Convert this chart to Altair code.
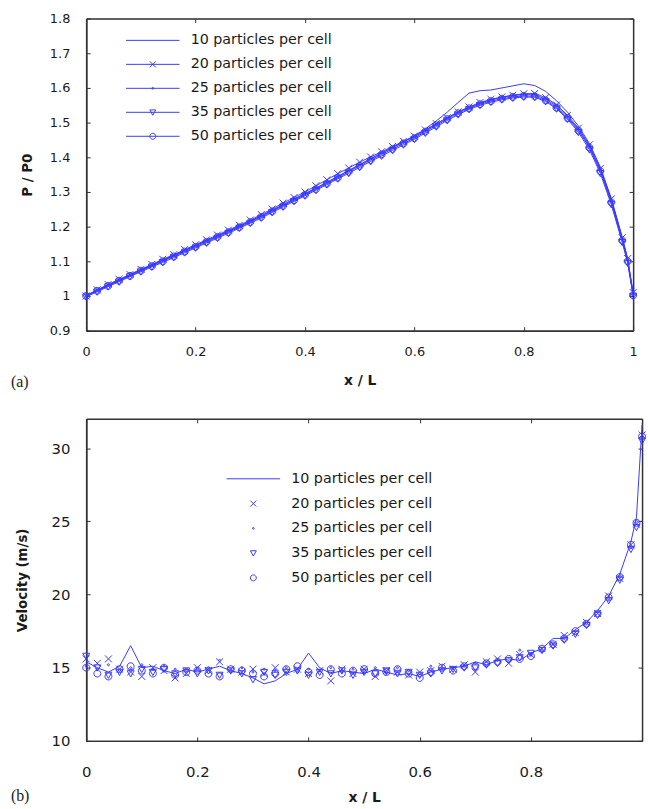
import altair as alt
import pandas as pd

BLUE = "#3a3aff"
TXT = "#1a1a1a"
FRAME = "#333333"
F = "DejaVu Sans"

names = ["10 particles per cell", "20 particles per cell", "25 particles per cell",
         "35 particles per cell", "50 particles per cell"]

x_pos = [0.00, 0.02, 0.04, 0.06, 0.08, 0.10, 0.12, 0.14, 0.16, 0.18,
         0.20, 0.22, 0.24, 0.26, 0.28, 0.30, 0.32, 0.34, 0.36, 0.38,
         0.40, 0.42, 0.44, 0.46, 0.48, 0.50, 0.52, 0.54, 0.56, 0.58,
         0.60, 0.62, 0.64, 0.66, 0.68, 0.70, 0.72, 0.74, 0.76, 0.78,
         0.80, 0.82, 0.84, 0.86, 0.88, 0.90, 0.92, 0.94, 0.96, 0.98,
         0.99, 1.00]

# (a) pressure ratio P/P0
p10 = [1.000, 1.016, 1.031, 1.046, 1.061, 1.076, 1.089, 1.104, 1.117, 1.131,
       1.145, 1.159, 1.173, 1.187, 1.201, 1.216, 1.231, 1.247, 1.263, 1.279,
       1.295, 1.311, 1.327, 1.344, 1.361, 1.378, 1.395, 1.412, 1.428, 1.445,
       1.462, 1.482, 1.505, 1.530, 1.558, 1.585, 1.592, 1.594, 1.600, 1.606,
       1.612, 1.607, 1.590, 1.563, 1.530, 1.490, 1.440, 1.372, 1.282, 1.170,
       1.106, 1.005]
p20 = [1.000, 1.018, 1.033, 1.048, 1.062, 1.077, 1.091, 1.106, 1.119, 1.134,
       1.148, 1.162, 1.176, 1.190, 1.204, 1.219, 1.235, 1.251, 1.268, 1.284,
       1.300, 1.318, 1.335, 1.353, 1.369, 1.386, 1.401, 1.416, 1.431, 1.446,
       1.461, 1.479, 1.497, 1.514, 1.531, 1.545, 1.558, 1.567, 1.574, 1.579,
       1.583, 1.584, 1.572, 1.551, 1.521, 1.484, 1.436, 1.368, 1.280, 1.168,
       1.108, 1.010]
p25 = [1.002, 1.017, 1.031, 1.046, 1.060, 1.075, 1.088, 1.103, 1.116, 1.131,
       1.145, 1.159, 1.173, 1.187, 1.201, 1.216, 1.231, 1.247, 1.263, 1.279,
       1.295, 1.311, 1.328, 1.345, 1.362, 1.379, 1.396, 1.412, 1.428, 1.444,
       1.459, 1.477, 1.495, 1.513, 1.530, 1.544, 1.556, 1.566, 1.573, 1.578,
       1.581, 1.580, 1.568, 1.547, 1.517, 1.480, 1.432, 1.365, 1.275, 1.165,
       1.104, 1.004]
p35 = [0.998, 1.012, 1.027, 1.041, 1.056, 1.070, 1.084, 1.097, 1.111, 1.125,
       1.139, 1.153, 1.167, 1.181, 1.196, 1.210, 1.225, 1.241, 1.257, 1.273,
       1.289, 1.305, 1.321, 1.338, 1.354, 1.371, 1.388, 1.404, 1.420, 1.436,
       1.452, 1.470, 1.488, 1.506, 1.523, 1.538, 1.550, 1.559, 1.566, 1.571,
       1.574, 1.573, 1.561, 1.540, 1.510, 1.472, 1.422, 1.354, 1.264, 1.155,
       1.095, 1.000]
p50 = [1.000, 1.015, 1.029, 1.044, 1.058, 1.073, 1.086, 1.100, 1.114, 1.128,
       1.142, 1.156, 1.170, 1.184, 1.198, 1.213, 1.228, 1.244, 1.260, 1.276,
       1.292, 1.308, 1.324, 1.341, 1.358, 1.375, 1.392, 1.408, 1.424, 1.440,
       1.455, 1.474, 1.492, 1.510, 1.527, 1.541, 1.553, 1.562, 1.569, 1.574,
       1.577, 1.576, 1.564, 1.543, 1.513, 1.477, 1.428, 1.360, 1.270, 1.160,
       1.100, 1.002]

# (b) velocity (m/s)
v10 = [15.4, 15.0, 14.7, 15.1, 16.5, 15.0, 15.1, 14.8, 14.6, 14.9,
       14.7, 14.9, 15.1, 14.8, 14.6, 14.3, 13.9, 14.1, 14.6, 14.9,
       16.0, 15.0, 14.6, 14.8, 14.7, 14.6, 14.9, 14.7, 14.5, 14.6,
       14.4, 14.7, 14.9, 15.0, 15.1, 15.4, 15.2, 15.5, 15.6, 15.5,
       16.0, 16.3, 17.0, 17.0, 17.6, 18.1, 18.9, 19.9, 21.4, 23.6,
       25.3, 31.6]
v20 = [15.6, 15.3, 15.6, 14.9, 14.7, 14.4, 15.0, 14.8, 14.3, 14.6,
       15.0, 14.8, 15.4, 14.9, 14.7, 14.9, 14.6, 15.0, 14.7, 14.9,
       14.6, 14.8, 14.1, 14.9, 14.6, 14.9, 14.4, 14.8, 14.7, 14.5,
       14.7, 14.8, 15.1, 14.9, 15.2, 14.7, 15.4, 15.6, 15.3, 15.9,
       15.9, 16.3, 16.6, 17.2, 17.4, 18.1, 18.7, 19.9, 21.1, 23.4,
       24.8, 30.9]
v25 = [15.1, 14.9, 15.2, 14.8, 15.0, 15.2, 14.9, 15.1, 14.9, 14.8,
       14.9, 15.0, 15.5, 14.8, 15.0, 14.7, 14.9, 14.8, 15.0, 14.7,
       14.9, 14.8, 15.0, 14.7, 14.9, 14.8, 15.0, 14.6, 15.0, 14.8,
       14.6, 15.1, 14.9, 15.0, 15.1, 15.3, 15.1, 15.5, 15.4, 16.2,
       15.9, 16.1, 16.6, 17.0, 17.5, 18.0, 18.8, 19.7, 21.3, 23.2,
       25.0, 30.7]
v35 = [15.8, 15.0, 14.5, 14.7, 14.6, 14.9, 14.7, 14.9, 14.6, 14.8,
       14.6, 14.8, 14.5, 14.8, 14.6, 14.2, 14.7, 14.5, 14.7, 14.8,
       14.5, 14.7, 14.6, 14.8, 14.5, 14.7, 14.6, 14.8, 14.6, 14.7,
       14.5, 14.6, 14.8, 14.9, 15.0, 15.0, 15.2, 15.3, 15.5, 15.7,
       16.0, 16.2, 16.5, 16.9, 17.3, 17.9, 18.6, 19.6, 21.0, 23.1,
       24.6, 30.5]
v50 = [15.0, 14.6, 14.4, 14.9, 15.1, 14.8, 14.6, 15.0, 14.5, 14.7,
       14.8, 14.6, 14.4, 14.9, 14.8, 14.6, 14.4, 14.6, 14.9, 15.1,
       14.7, 14.5, 14.9, 14.6, 14.8, 14.9, 14.6, 14.7, 14.9, 14.6,
       14.3, 14.7, 15.0, 14.8, 15.1, 15.1, 15.3, 15.4, 15.6, 15.6,
       15.8, 16.3, 16.6, 17.0, 17.5, 18.0, 18.7, 19.8, 21.2, 23.4,
       24.9, 30.8]

x_ticks = [0, 0.2, 0.4, 0.6, 0.8, 1]
y_ticks_a = [0.9, 1, 1.1, 1.2, 1.3, 1.4, 1.5, 1.6, 1.7, 1.8]
y_ticks_b = [10, 15, 20, 25, 30]


def long(series_list):
    rows = []
    for name, vals in zip(names, series_list):
        assert len(vals) == len(x_pos)
        for xv, yv in zip(x_pos, vals):
            rows.append({"x": xv, "v": yv, "series": name})
    return pd.DataFrame(rows)


df_a = long([p10, p20, p25, p35, p50])
df_b = long([v10, v20, v25, v35, v50])

# marker glyphs (unit square paths)
X_M = "M-1,-1L1,1M-1,1L1,-1"
DOT_M = "M-0.3,0A0.3,0.3,0,1,1,0.3,0A0.3,0.3,0,1,1,-0.3,0Z"
TRI_M = "M-1,-0.8L1,-0.8L0,1Z"
CIR_M = "M-1,0A1,1,0,1,1,1,0A1,1,0,1,1,-1,0Z"
marker_paths = [X_M, DOT_M, TRI_M, CIR_M]

LINE = "M-9,0H9"
# legend glyphs, drawn at scale 3 (size 36)
leg_a = [LINE, LINE + X_M, LINE + DOT_M, LINE + TRI_M, LINE + CIR_M]
leg_b = [LINE, X_M, DOT_M, TRI_M, CIR_M]

DOM = dict(domain=True, domainColor=FRAME, domainWidth=1.5)


def label_x(size, lpad, tpad, expr):
    return alt.Axis(orient="bottom", values=x_ticks, title="x / L", ticks=False, grid=False,
                    format="~g", labelFont=F, labelFontSize=size, labelPadding=lpad, labelColor=TXT,
                    labelFlush=False, labelOverlap=False, labelExpr=expr,
                    titleFont=F, titleFontSize=14, titleFontWeight="bold", titlePadding=tpad,
                    titleColor=TXT, **DOM)


def label_y(title, values, size, tpad):
    return alt.Axis(orient="left", values=values, title=title, ticks=False, grid=False,
                    format="~g", labelFont=F, labelFontSize=size, labelPadding=16.5, labelColor=TXT,
                    labelFlush=False, labelOverlap=False,
                    titleFont=F, titleFontSize=13.5, titleFontWeight="bold", titlePadding=tpad,
                    titleColor=TXT, **DOM)


def tick_axis(orient, offset, values):
    return alt.Axis(orient=orient, offset=offset, values=values, labels=False, title=None,
                    grid=False, ticks=True, tickSize=4, tickColor=FRAME, tickWidth=1, **DOM)


def panel(df, W, H, ydom, yticks, ytitle, labsize, ytpad, xlpad, xtpad, xexpr,
          legend_paths, lx, ly, rowpad, tag, tag_dy, line_names):
    xs = alt.Scale(domain=[0, 1], nice=False, zero=False)
    ys = alt.Scale(domain=ydom, nice=False, zero=False)
    lines = alt.Chart(df).transform_filter(
        alt.FieldOneOfPredicate(field="series", oneOf=line_names)
    ).mark_line(color=BLUE, strokeWidth=1).encode(
        x=alt.X("x:Q", scale=xs, axis=label_x(labsize, xlpad, xtpad, xexpr)),
        y=alt.Y("v:Q", scale=ys, axis=label_y(ytitle, yticks, labsize, ytpad)),
        detail="series:N",
    )
    pts = alt.Chart(df).transform_filter(
        alt.FieldOneOfPredicate(field="series", oneOf=names[1:])
    ).mark_point(filled=False, color=BLUE, size=49, strokeWidth=1, opacity=1).encode(
        x=alt.X("x:Q", scale=xs, axis=tick_axis("top", -H, x_ticks)),
        y=alt.Y("v:Q", scale=ys, axis=tick_axis("right", -W, yticks)),
        shape=alt.Shape("series:N", scale=alt.Scale(domain=names[1:], range=marker_paths), legend=None),
    )
    leg = alt.Chart(df).transform_filter("datum.x > 5").mark_point(
        filled=False, color=BLUE, size=36, strokeWidth=1, opacity=1
    ).encode(
        x=alt.X("x:Q", scale=xs, axis=tick_axis("bottom", -H, x_ticks)),
        y=alt.Y("v:Q", scale=ys, axis=tick_axis("left", -W, yticks)),
        shape=alt.Shape("series:N", scale=alt.Scale(domain=names, range=legend_paths),
                        legend=alt.Legend(orient="none", legendX=lx, legendY=ly, title=None,
                                          labelFont=F, labelFontSize=14.4, labelColor=TXT,
                                          labelOffset=31, rowPadding=rowpad, padding=0,
                                          symbolStrokeColor=BLUE, symbolFillColor="transparent",
                                          symbolStrokeWidth=1, symbolSize=36, symbolOpacity=1)),
    )
    return alt.layer(lines, pts, leg).resolve_scale(shape="independent").resolve_axis(
        x="independent", y="independent"
    ).properties(
        width=W, height=H,
        title=alt.TitleParams(text=tag, orient="bottom", anchor="start", frame="group",
                              font="Liberation Serif", fontSize=16, fontWeight="normal",
                              color=TXT, dx=-76, dy=tag_dy, offset=0),
    )


top = panel(df_a, 552, 315, [0.9, 1.8], y_ticks_a, "P / P0", 13, 15, 15.5, 15,
            "datum.label", leg_a, 60, 14.8, 9.2, "(a)", -14, names)
bottom = panel(df_b, 561, 325, [10, 32], y_ticks_b, "Velocity (m/s)", 15, 22, 23.5, 12,
               "datum.value >= 1 ? '' : datum.label", leg_b, 161.5, 53.3, 10, "(b)", -17, names[:1])

chart = alt.vconcat(top, bottom, spacing=89, bounds="flush").properties(
    padding={"left": 10, "top": 8, "right": 0, "bottom": 0}
).configure_view(stroke=None).configure(background="white")

chart.save("out.html", embed_options={"renderer": "svg", "actions": False})
